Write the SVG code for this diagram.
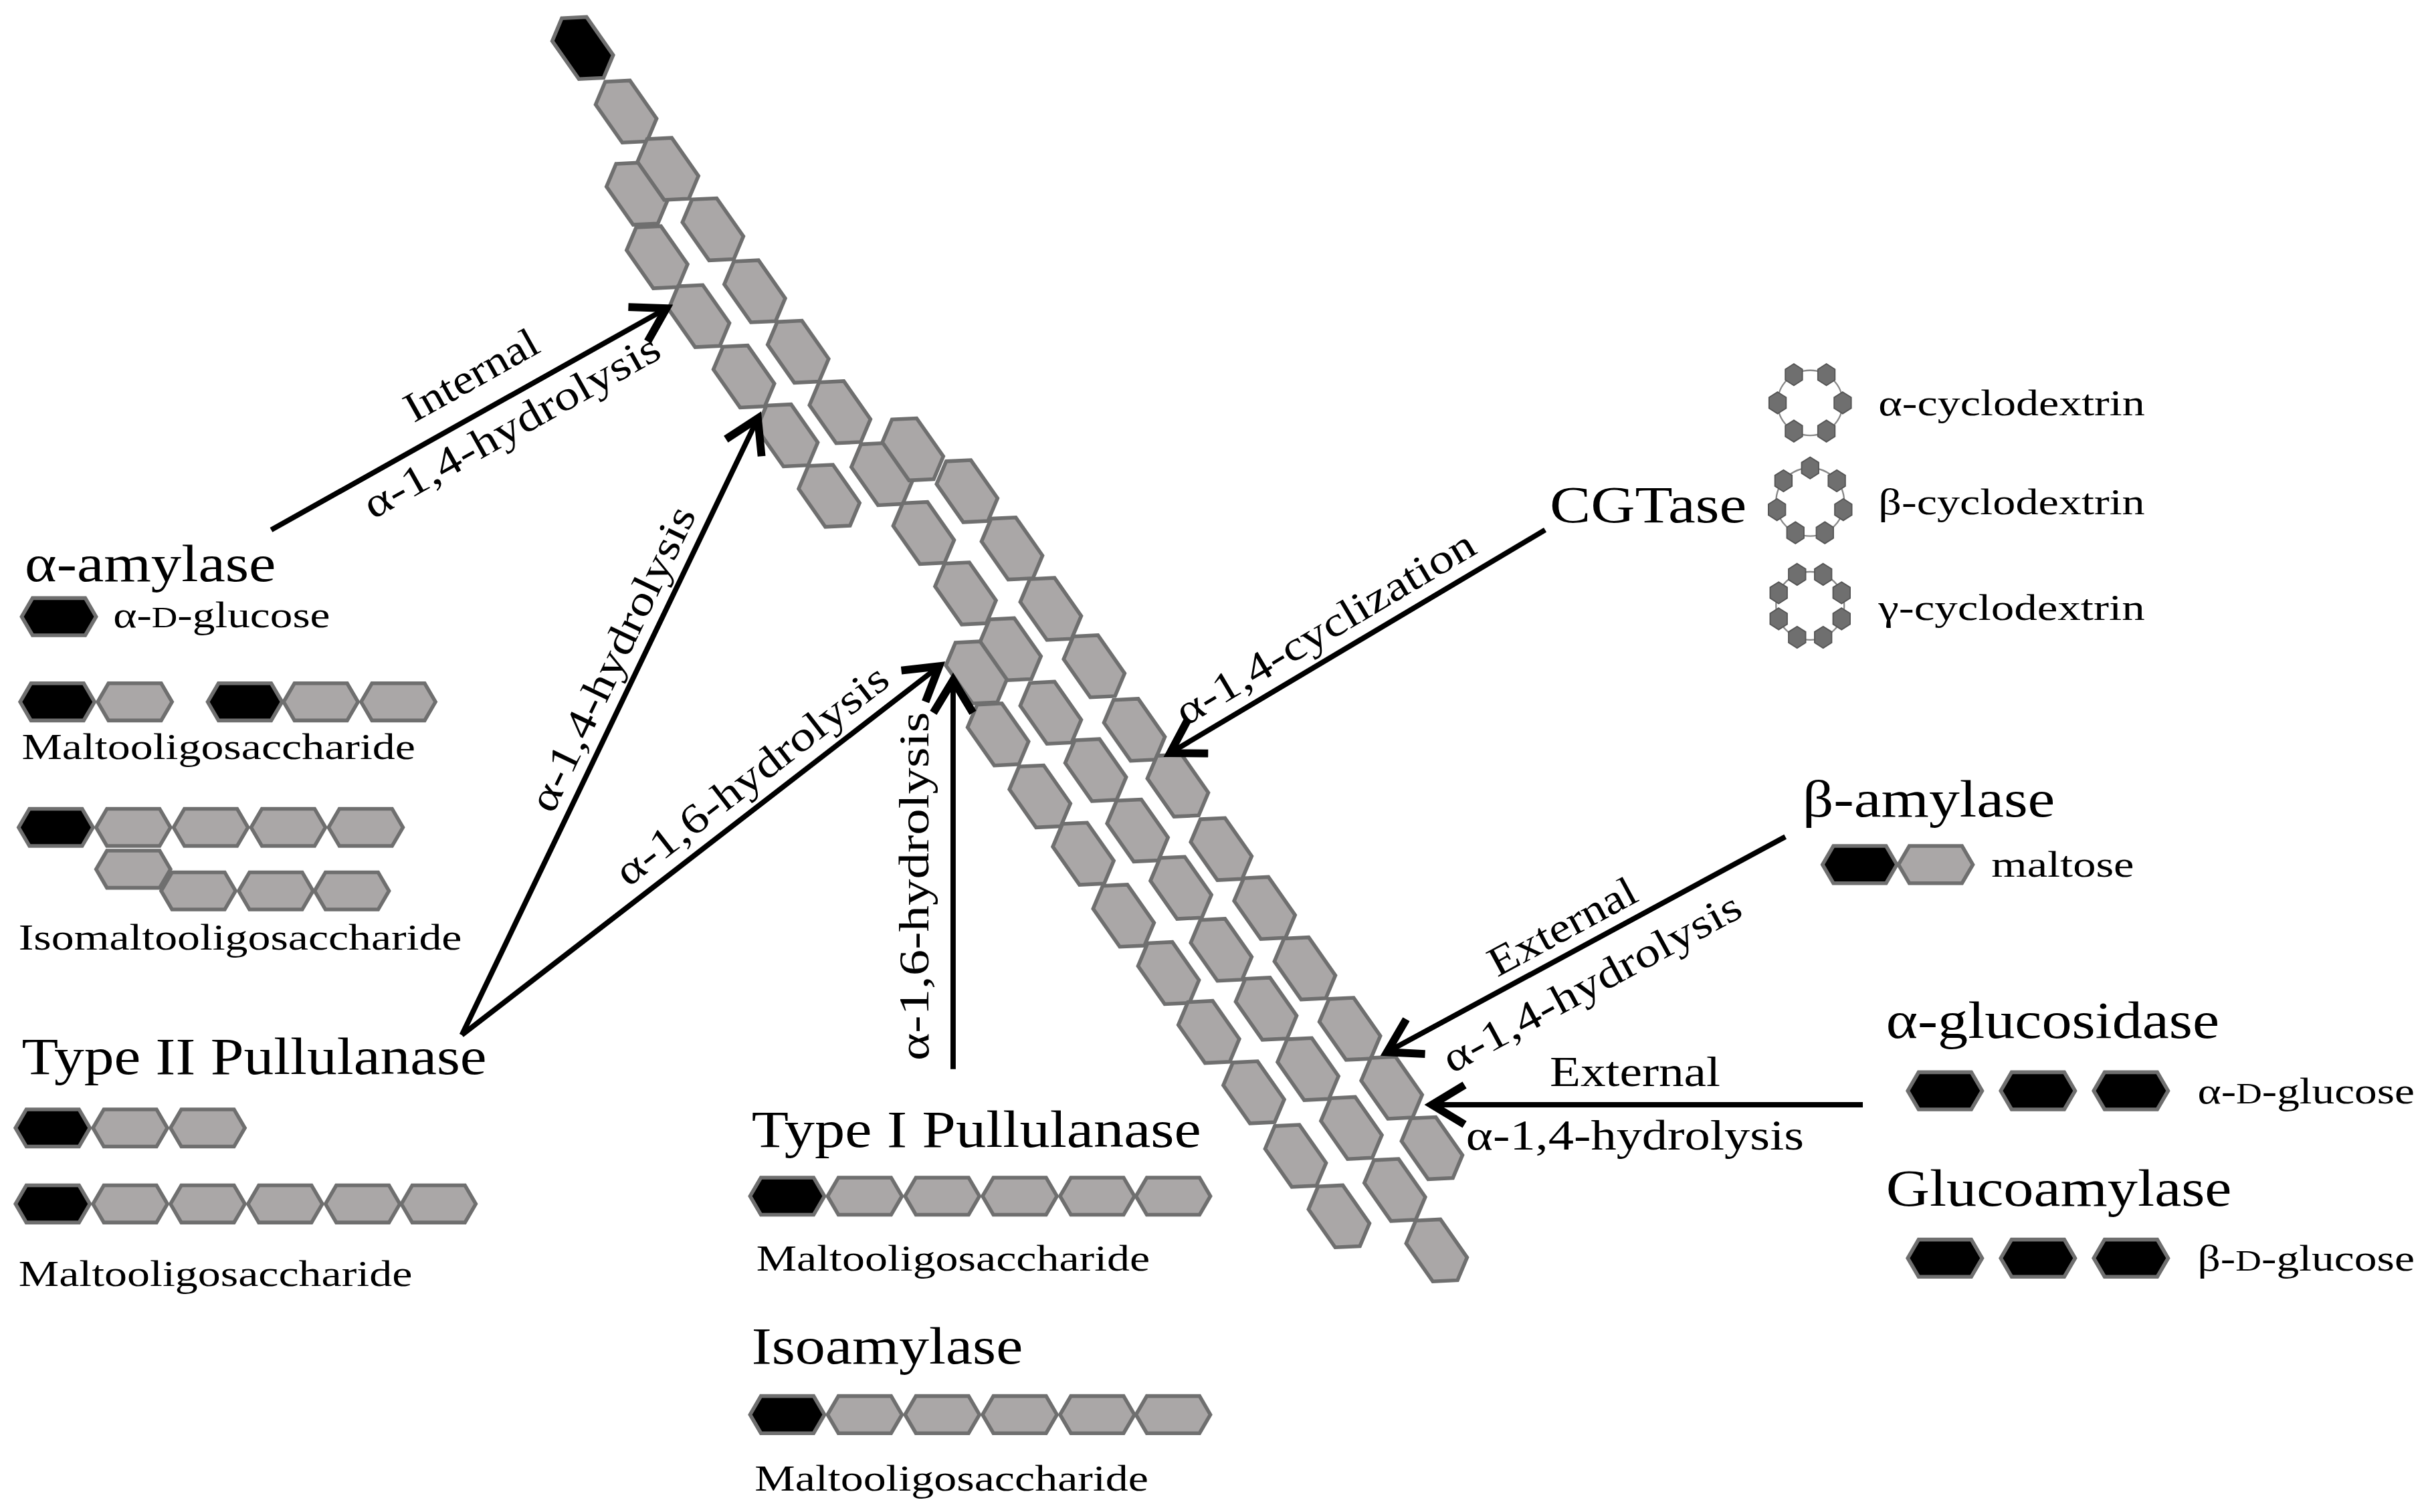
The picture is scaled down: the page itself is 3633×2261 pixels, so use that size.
<svg xmlns="http://www.w3.org/2000/svg" width="3633" height="2261" viewBox="0 0 3633 2261">
<style>
.g{fill:#aaa7a7;stroke:#6f6f6f;stroke-width:2.4}
.k{fill:#000;stroke:#6f6f6f;stroke-width:2.4}
.c{fill:#6f6f6f;stroke:#555;stroke-width:0.8}
.ring{fill:none;stroke:#888;stroke-width:1}
text{font-family:'Liberation Serif','Times New Roman',Times,serif;fill:#000}
.en{font-size:34px}
.lb{font-size:27px}
.pr{font-size:24px}
.ar{stroke:#000;stroke-width:3.4;fill:none;marker-end:url(#ah)}
</style>
<defs>
<polygon id="hx" points="-24,0 -17,-12 17,-12 24,0 17,12 -17,12"/>
<polygon id="cx" points="-23.5,0 -15,-13.5 15,-13.5 23.5,0 15,13.5 -15,13.5"/>
<polygon id="sh" points="0,-7 5.5,-3.5 5.5,3.5 0,7 -5.5,3.5 -5.5,-3.5"/>
<marker id="ah" markerUnits="userSpaceOnUse" markerWidth="30" markerHeight="30" refX="15" refY="10" orient="auto" viewBox="0 0 20 20">
<path d="M1,1.5 L15,10 L1,18.5" fill="none" stroke="#000" stroke-width="3.4"/>
</marker>
</defs>
<rect width="3633" height="2261" fill="#fff"/>
<g transform="scale(2.317)">
<g id="starch">
<use href="#cx" class="k" transform="translate(376,31) rotate(55)"/>
<use href="#cx" class="g" transform="translate(404,72) rotate(55)"/>
<use href="#cx" class="g" transform="translate(411,125) rotate(55)"/>
<use href="#cx" class="g" transform="translate(424,166) rotate(55)"/>
<use href="#cx" class="g" transform="translate(451,204) rotate(55)"/>
<use href="#cx" class="g" transform="translate(480,243) rotate(55)"/>
<use href="#cx" class="g" transform="translate(508,281) rotate(55)"/>
<use href="#cx" class="g" transform="translate(535,320) rotate(55)"/>
<use href="#cx" class="g" transform="translate(431,109) rotate(55)"/>
<use href="#cx" class="g" transform="translate(460,148) rotate(55)"/>
<use href="#cx" class="g" transform="translate(487,188) rotate(55)"/>
<use href="#cx" class="g" transform="translate(515,227) rotate(55)"/>
<use href="#cx" class="g" transform="translate(542,266) rotate(55)"/>
<use href="#cx" class="g" transform="translate(569,306) rotate(55)"/>
<use href="#cx" class="g" transform="translate(596,344) rotate(55)"/>
<use href="#cx" class="g" transform="translate(623,383) rotate(55)"/>
<use href="#cx" class="g" transform="translate(652,419) rotate(55)"/>
<use href="#cx" class="g" transform="translate(678,460) rotate(55)"/>
<use href="#cx" class="g" transform="translate(707,497) rotate(55)"/>
<use href="#cx" class="g" transform="translate(734,536) rotate(55)"/>
<use href="#cx" class="g" transform="translate(762,573) rotate(55)"/>
<use href="#cx" class="g" transform="translate(788,613) rotate(55)"/>
<use href="#cx" class="g" transform="translate(817,651) rotate(55)"/>
<use href="#cx" class="g" transform="translate(844,690) rotate(55)"/>
<use href="#cx" class="g" transform="translate(872,728) rotate(55)"/>
<use href="#cx" class="g" transform="translate(900,768) rotate(55)"/>
<use href="#cx" class="g" transform="translate(927,807) rotate(55)"/>
<use href="#cx" class="g" transform="translate(589,290) rotate(55)"/>
<use href="#cx" class="g" transform="translate(624,317) rotate(55)"/>
<use href="#cx" class="g" transform="translate(653,354) rotate(55)"/>
<use href="#cx" class="g" transform="translate(678,393) rotate(55)"/>
<use href="#cx" class="g" transform="translate(706,430) rotate(55)"/>
<use href="#cx" class="g" transform="translate(732,471) rotate(55)"/>
<use href="#cx" class="g" transform="translate(760,507) rotate(55)"/>
<use href="#cx" class="g" transform="translate(788,548) rotate(55)"/>
<use href="#cx" class="g" transform="translate(816,586) rotate(55)"/>
<use href="#cx" class="g" transform="translate(842,625) rotate(55)"/>
<use href="#cx" class="g" transform="translate(871,664) rotate(55)"/>
<use href="#cx" class="g" transform="translate(898,702) rotate(55)"/>
<use href="#cx" class="g" transform="translate(924,741) rotate(55)"/>
<use href="#cx" class="g" transform="translate(630,434) rotate(55)"/>
<use href="#cx" class="g" transform="translate(644,474) rotate(55)"/>
<use href="#cx" class="g" transform="translate(671,514) rotate(55)"/>
<use href="#cx" class="g" transform="translate(699,551) rotate(55)"/>
<use href="#cx" class="g" transform="translate(725,591) rotate(55)"/>
<use href="#cx" class="g" transform="translate(754,628) rotate(55)"/>
<use href="#cx" class="g" transform="translate(780,666) rotate(55)"/>
<use href="#cx" class="g" transform="translate(809,705) rotate(55)"/>
<use href="#cx" class="g" transform="translate(836,746) rotate(55)"/>
<use href="#cx" class="g" transform="translate(864,785) rotate(55)"/>
</g>

<g id="connectors">
<line class="ar" x1="175" y1="342" x2="430" y2="199"/>
<line class="ar" x1="298" y1="668" x2="489" y2="270"/>
<line class="ar" x1="298" y1="668" x2="606" y2="430"/>
<line class="ar" x1="615" y1="690" x2="615" y2="439"/>
<line class="ar" x1="997" y1="342" x2="755" y2="486"/>
<line class="ar" x1="1152" y1="540" x2="895" y2="679"/>
<line class="ar" x1="1202" y1="713" x2="924" y2="713"/>
<g text-anchor="middle">
<text class="lb" transform="translate(304,242) rotate(-29.3)" y="9" textLength="95" lengthAdjust="spacingAndGlyphs">Internal</text>
<text class="lb" transform="translate(330,275) rotate(-29.3)" y="9" textLength="215" lengthAdjust="spacingAndGlyphs">α-1,4-hydrolysis</text>
<text class="lb" transform="translate(395,425) rotate(-64.4)" y="9" textLength="215" lengthAdjust="spacingAndGlyphs">α-1,4-hydrolysis</text>
<text class="lb" transform="translate(485,500) rotate(-37.7)" y="9" textLength="215" lengthAdjust="spacingAndGlyphs">α-1,6-hydrolysis</text>
<text class="lb" transform="translate(590,572) rotate(-90)" y="9" textLength="225" lengthAdjust="spacingAndGlyphs">α-1,6-hydrolysis</text>
<text class="lb" transform="translate(855,405) rotate(-30.7)" y="9" textLength="220" lengthAdjust="spacingAndGlyphs">α-1,4-cyclization</text>
<text class="lb" transform="translate(1008,598) rotate(-28.4)" y="9" textLength="105" lengthAdjust="spacingAndGlyphs">External</text>
<text class="lb" transform="translate(1027,634) rotate(-28.4)" y="9" textLength="215" lengthAdjust="spacingAndGlyphs">α-1,4-hydrolysis</text>
<text class="lb" x="1055" y="701" textLength="110" lengthAdjust="spacingAndGlyphs">External</text>
<text class="lb" x="1055" y="742" textLength="218" lengthAdjust="spacingAndGlyphs">α-1,4-hydrolysis</text>
</g>
</g>

<g id="alpha-amylase">
<text class="en" x="16" y="375" textLength="162" lengthAdjust="spacingAndGlyphs">α-amylase</text>
<use href="#hx" class="k" x="38" y="398"/>
<text class="pr" x="73" y="405" textLength="140" lengthAdjust="spacingAndGlyphs">α-<tspan font-size="19">D</tspan>-glucose</text>
<use href="#hx" class="k" x="37" y="453"/><use href="#hx" class="g" x="87" y="453"/>
<use href="#hx" class="k" x="158" y="453"/><use href="#hx" class="g" x="207" y="453"/><use href="#hx" class="g" x="257" y="453"/>
<text class="pr" x="14" y="490" textLength="254" lengthAdjust="spacingAndGlyphs">Maltooligosaccharide</text>
<use href="#hx" class="g" x="86" y="561"/>
<use href="#hx" class="k" x="36" y="534"/><use href="#hx" class="g" x="86" y="534"/><use href="#hx" class="g" x="136" y="534"/><use href="#hx" class="g" x="186" y="534"/><use href="#hx" class="g" x="236" y="534"/>
<use href="#hx" class="g" x="128" y="575"/><use href="#hx" class="g" x="178" y="575"/><use href="#hx" class="g" x="227" y="575"/>
<text class="pr" x="12" y="613" textLength="286" lengthAdjust="spacingAndGlyphs">Isomaltooligosaccharide</text>
</g>

<g id="type2-pullulanase">
<text class="en" x="14" y="693" textLength="300" lengthAdjust="spacingAndGlyphs">Type II Pullulanase</text>
<use href="#hx" class="k" x="34" y="728"/><use href="#hx" class="g" x="84" y="728"/><use href="#hx" class="g" x="134" y="728"/>
<use href="#hx" class="k" x="34" y="777"/><use href="#hx" class="g" x="84" y="777"/><use href="#hx" class="g" x="134" y="777"/><use href="#hx" class="g" x="184" y="777"/><use href="#hx" class="g" x="234" y="777"/><use href="#hx" class="g" x="283" y="777"/>
<text class="pr" x="12" y="830" textLength="254" lengthAdjust="spacingAndGlyphs">Maltooligosaccharide</text>
</g>

<g id="type1-pullulanase">
<text class="en" x="485" y="740" textLength="290" lengthAdjust="spacingAndGlyphs">Type I Pullulanase</text>
<use href="#hx" class="k" x="508" y="772"/><use href="#hx" class="g" x="558" y="772"/><use href="#hx" class="g" x="608" y="772"/><use href="#hx" class="g" x="658" y="772"/><use href="#hx" class="g" x="708" y="772"/><use href="#hx" class="g" x="757" y="772"/>
<text class="pr" x="488" y="820" textLength="254" lengthAdjust="spacingAndGlyphs">Maltooligosaccharide</text>
</g>

<g id="isoamylase">
<text class="en" x="485" y="880" textLength="175" lengthAdjust="spacingAndGlyphs">Isoamylase</text>
<use href="#hx" class="k" x="508" y="913"/><use href="#hx" class="g" x="558" y="913"/><use href="#hx" class="g" x="608" y="913"/><use href="#hx" class="g" x="658" y="913"/><use href="#hx" class="g" x="708" y="913"/><use href="#hx" class="g" x="757" y="913"/>
<text class="pr" x="487" y="962" textLength="254" lengthAdjust="spacingAndGlyphs">Maltooligosaccharide</text>
</g>

<g id="cgtase">
<text class="en" x="1000" y="337" textLength="127" lengthAdjust="spacingAndGlyphs">CGTase</text>
<g transform="translate(1168,260)">
<circle class="ring" r="21"/>
<use href="#sh" class="c" x="-10.5" y="-18.2"/><use href="#sh" class="c" x="10.5" y="-18.2"/><use href="#sh" class="c" x="21" y="0"/><use href="#sh" class="c" x="10.5" y="18.2"/><use href="#sh" class="c" x="-10.5" y="18.2"/><use href="#sh" class="c" x="-21" y="0"/>
</g>
<text class="pr" x="1212" y="268" textLength="172" lengthAdjust="spacingAndGlyphs">α-cyclodextrin</text>
<g transform="translate(1168,324)">
<circle class="ring" r="22"/>
<use href="#sh" class="c" x="0" y="-22"/><use href="#sh" class="c" x="17.2" y="-13.7"/><use href="#sh" class="c" x="21.4" y="4.9"/><use href="#sh" class="c" x="9.5" y="19.8"/><use href="#sh" class="c" x="-9.5" y="19.8"/><use href="#sh" class="c" x="-21.4" y="4.9"/><use href="#sh" class="c" x="-17.2" y="-13.7"/>
</g>
<text class="pr" x="1212" y="332" textLength="172" lengthAdjust="spacingAndGlyphs">β-cyclodextrin</text>
<g transform="translate(1168,391)">
<circle class="ring" r="22"/>
<use href="#sh" class="c" x="-8.4" y="-20.3"/><use href="#sh" class="c" x="8.4" y="-20.3"/><use href="#sh" class="c" x="20.3" y="-8.4"/><use href="#sh" class="c" x="20.3" y="8.4"/><use href="#sh" class="c" x="8.4" y="20.3"/><use href="#sh" class="c" x="-8.4" y="20.3"/><use href="#sh" class="c" x="-20.3" y="8.4"/><use href="#sh" class="c" x="-20.3" y="-8.4"/>
</g>
<text class="pr" x="1212" y="400" textLength="172" lengthAdjust="spacingAndGlyphs">γ-cyclodextrin</text>
</g>

<g id="beta-amylase">
<text class="en" x="1163" y="527" textLength="163" lengthAdjust="spacingAndGlyphs">β-amylase</text>
<use href="#hx" class="k" x="1200" y="558"/><use href="#hx" class="g" x="1249" y="558"/>
<text class="pr" x="1285" y="566" textLength="92" lengthAdjust="spacingAndGlyphs">maltose</text>
</g>

<g id="alpha-glucosidase">
<text class="en" x="1217" y="670" textLength="215" lengthAdjust="spacingAndGlyphs">α-glucosidase</text>
<use href="#hx" class="k" x="1255" y="704"/><use href="#hx" class="k" x="1315" y="704"/><use href="#hx" class="k" x="1375" y="704"/>
<text class="pr" x="1418" y="712" textLength="140" lengthAdjust="spacingAndGlyphs">α-<tspan font-size="19">D</tspan>-glucose</text>
</g>

<g id="glucoamylase">
<text class="en" x="1217" y="778" textLength="223" lengthAdjust="spacingAndGlyphs">Glucoamylase</text>
<use href="#hx" class="k" x="1255" y="812"/><use href="#hx" class="k" x="1315" y="812"/><use href="#hx" class="k" x="1375" y="812"/>
<text class="pr" x="1418" y="820" textLength="140" lengthAdjust="spacingAndGlyphs">β-<tspan font-size="19">D</tspan>-glucose</text>
</g>
</g>
</svg>
